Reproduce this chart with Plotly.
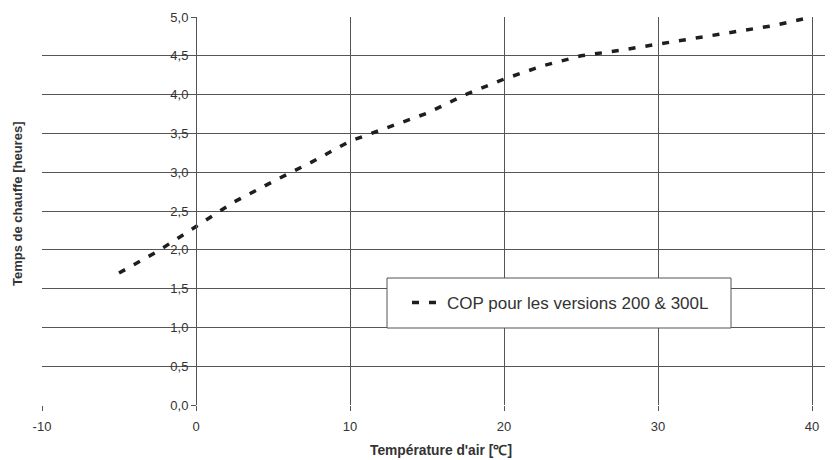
import plotly.graph_objects as go

temperature = [-5, -2.5, 0, 2.5, 5, 7.5, 10, 12.5, 15, 17.5, 20, 22.5, 25, 27.5, 30, 32.5, 35, 37.5, 40]
heating_time = [1.7, 1.98, 2.3, 2.62, 2.88, 3.13, 3.4, 3.58, 3.76, 4.0, 4.2, 4.37, 4.5, 4.57, 4.65, 4.73, 4.8, 4.89, 5.0]
series_name = "COP pour les versions 200 & 300L"
x_ticks = [-10, 0, 10, 20, 30, 40]
x_tick_text = ["-10", "0", "10", "20", "30", "40"]
y_ticks = [0, 0.5, 1.0, 1.5, 2.0, 2.5, 3.0, 3.5, 4.0, 4.5, 5.0]

x_min, x_max = -10, 41.36
y_pos = (0 - x_min) / (x_max - x_min)

OFF = 8  # page body margin
FW, FH = 833 - OFF, 460 - OFF
L, T, W, H = 42 - OFF, 17 - OFF, 791, 388  # plot area in figure pixels


def px(x):
    return (x - OFF - L) / W


def py(y):
    return (T + H - (y - OFF)) / H


fig = go.Figure()
fig.add_trace(go.Scatter(
    x=temperature, y=heating_time, mode="lines", name=series_name,
    line=dict(color="#1e1e1e", width=3.5, dash="7px,10px"),
    showlegend=True,
))

font = "Liberation Sans, Arial, sans-serif"
fig.update_layout(
    width=FW, height=FH,
    margin=dict(l=L, r=FW - L - W, t=T, b=FH - T - H, autoexpand=False),
    paper_bgcolor="white", plot_bgcolor="white",
    separators=", ",
    font=dict(family=font, size=12, color="#333"),
    showlegend=True,
    legend=dict(
        x=px(407), y=py(303), xanchor="left", yanchor="middle",
        borderwidth=0, bgcolor="rgba(0,0,0,0)",
        font=dict(size=17, color="#333", family=font),
    ),
    xaxis=dict(
        range=[x_min, x_max], tickvals=x_ticks, ticktext=x_tick_text, showgrid=True,
        gridcolor="#555", gridwidth=1, zeroline=False, showline=False, ticks="outside",
        ticklen=5, tickcolor="#555", tickfont=dict(size=13, color="#333"),
        ticklabelstandoff=4, fixedrange=True, automargin=False,
    ),
    yaxis=dict(
        range=[0, 5], tickvals=y_ticks, tickformat=".1f", showgrid=True, gridcolor="#555",
        gridwidth=1, zeroline=False, showline=True, linecolor="#555", linewidth=1,
        anchor="free", position=y_pos, ticks="outside", ticklen=5, tickcolor="#555",
        tickfont=dict(size=13, color="#333"), fixedrange=True, automargin=False,
    ),
    shapes=[
        dict(type="rect", xref="paper", yref="paper", x0=px(387), x1=px(731),
             y0=py(328), y1=py(278), line=dict(color="#555", width=1),
             fillcolor="white", layer="above"),
    ],
    annotations=[
        dict(text="<b>Température d'air [℃]</b>", x=px(441), y=py(450), xref="paper",
             yref="paper", xanchor="center", yanchor="middle", showarrow=False,
             font=dict(size=13.8, color="#333", family=font)),
        dict(text="<b>Temps de chauffe [heures]</b>", x=px(18), y=py(204), xref="paper",
             yref="paper", xanchor="center", yanchor="middle", showarrow=False,
             textangle=-90, font=dict(size=13, color="#333", family=font)),
    ],
)

fig.write_html("out.html")
